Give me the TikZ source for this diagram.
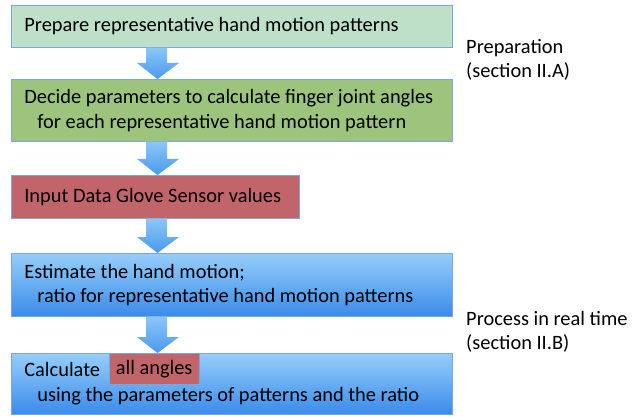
\documentclass[tikz,border=0pt]{standalone}
\usepackage{fontspec}
\setmainfont{Carlito}
\usetikzlibrary{backgrounds,calc}
\definecolor{boxedge}{HTML}{7AA8DC}
\definecolor{prepfill}{HTML}{BEE0C9}
\definecolor{decidefill}{HTML}{9CC47C}
\definecolor{inputfill}{HTML}{C2656B}
\definecolor{bluetop}{HTML}{96CEFB}
\definecolor{bluebot}{HTML}{3A8BEA}
\definecolor{arrowtop}{HTML}{8CC6F6}
\definecolor{arrowbot}{HTML}{4A99EE}
\definecolor{halo}{HTML}{EDF6FC}
\newcommand\flowarrow[2]{%
  \path[arrowshade] let \p1=(#1.south), \p2=(#2.north) in
    (146pt,\y1) -- (167pt,\y1) -- (167pt,\y2+16pt) -- (179pt,\y2+16pt)
    -- (157.5pt,\y2) -- (137pt,\y2+16pt) -- (146pt,\y2+16pt) -- cycle;}
\newcommand\haloaround[1]{%
  \fill[halo] ([shift={(-5pt,5pt)}]#1.north west) rectangle ([shift={(5pt,-6pt)}]#1.south east);}
% one unbroken line of box text, optionally indented
\newcommand\boxline[1]{\mbox{#1}}
\newcommand\indline[1]{\mbox{\hspace*{13pt}#1}}
\begin{document}
\begin{tikzpicture}[x=1pt,y=-1pt,
  txt/.style={font=\fontsize{20.4}{24.5}\selectfont},
  stepbox/.style={txt, draw=boxedge, line width=0.7pt, anchor=north west,
    inner xsep=13pt, inner ysep=0pt, text width=415pt, align=flush left},
  narrowbox/.style={stepbox, text width=262pt},
  bluebox/.style={stepbox, top color=bluetop, bottom color=bluebot},
  tagbox/.style={txt, draw=boxedge, line width=0.7pt, fill=inputfill, anchor=north west,
    inner xsep=6.5pt, inner ysep=0pt, minimum height=31pt},
  phase/.style={txt, anchor=west, align=left, inner sep=0pt},
  arrowshade/.style={top color=arrowtop, bottom color=arrowbot}]
\useasboundingbox (0,0) rectangle (632,417);
\fill[white] (0,0) rectangle (632,417);

\node[stepbox, fill=prepfill, minimum height=42pt] (b1) at (11,5)
  {\boxline{Prepare representative hand motion patterns}};
\node[stepbox, fill=decidefill, minimum height=62pt] (b2) at (11,79)
  {\boxline{Decide parameters to calculate finger joint angles}\\\indline{for each representative hand motion pattern}};
\node[narrowbox, fill=inputfill, minimum height=43pt] (b3) at (11,175)
  {\boxline{Input Data Glove Sensor values}};
\node[bluebox, minimum height=63pt] (b4) at (11,253)
  {\boxline{Estimate the hand motion;}\\\indline{ratio for representative hand motion patterns}};
\node[bluebox, minimum height=61pt] (b5) at (11,353)
  {\boxline{Calculate}\\\indline{using the parameters of patterns and the ratio}};
\node[tagbox] (tag) at ([xshift=98pt]b5.north west) {all angles};

\begin{pgfonlayer}{background}
  \haloaround{b1}
  \haloaround{b2}
  \haloaround{b3}
  \haloaround{b4}
  \haloaround{b5}
\end{pgfonlayer}

\flowarrow{b1}{b2}
\flowarrow{b2}{b3}
\flowarrow{b3}{b4}
\flowarrow{b4}{b5}

\node[phase] (prep) at (466,60) {Preparation\\(section II.A)};
\node[phase] (real) at (466,332) {Process in real time\\(section II.B)};
\end{tikzpicture}
\end{document}
